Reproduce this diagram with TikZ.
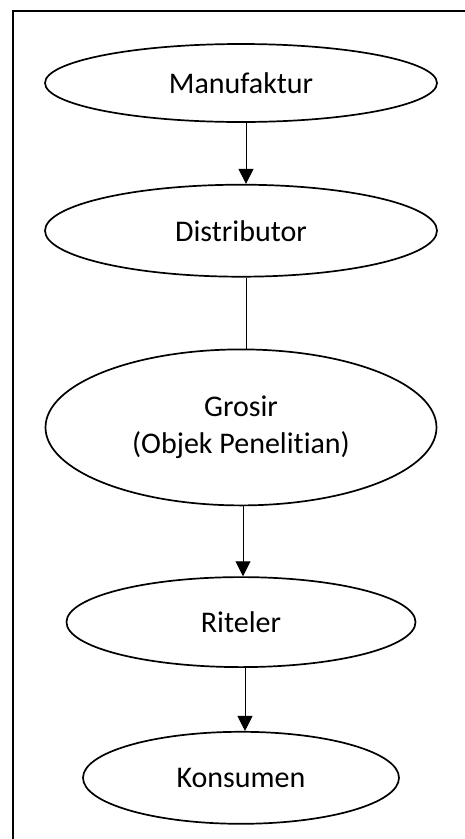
\documentclass[tikz,border=0pt]{standalone}
\usepackage{fontspec}
\setmainfont[Ligatures=NoCommon]{Carlito}
\usepackage{tikz}
\usetikzlibrary{arrows.meta,positioning,shapes.geometric}

\begin{document}
\begin{tikzpicture}[
  x=1pt,y=-1pt,
  node distance=61pt,
  stage/.style={draw=black,ellipse,line width=1.7pt,inner sep=0pt,align=center,font=\fontsize{30}{37}\selectfont},
  arrow/.style={-{Triangle[length=15pt,width=15pt]},line width=1pt},
  link/.style={line width=1pt}
]
\useasboundingbox (0,0) rectangle (465,839);
\draw[line width=2pt] (13,839) -- (13,11) -- (465,11);

\node[stage,minimum width=392pt,minimum height=78pt] (man) at (241,83) {Manufaktur};
\node[stage,minimum width=392pt,minimum height=92pt,below=61pt of man] (dis) {Distributor};
\node[stage,minimum width=391pt,minimum height=156pt,below=71pt of dis] (gro) {Grosir\\(Objek Penelitian)};
\node[stage,minimum width=349pt,minimum height=90pt,below=70pt of gro] (rit) {Riteler};
\node[stage,minimum width=316pt,minimum height=92pt,below=63pt of rit] (kon) {Konsumen};

\draw[arrow] ([xshift=5pt]man.south) -- ([xshift=5pt]dis.north);
\draw[link] ([xshift=5pt]dis.south) -- ([xshift=5pt]gro.north);
\draw[arrow] ([xshift=2pt]gro.south) -- ([xshift=2pt]rit.north);
\draw[arrow] ([xshift=4pt]rit.south) -- ([xshift=4pt]kon.north);
\end{tikzpicture}
\end{document}
